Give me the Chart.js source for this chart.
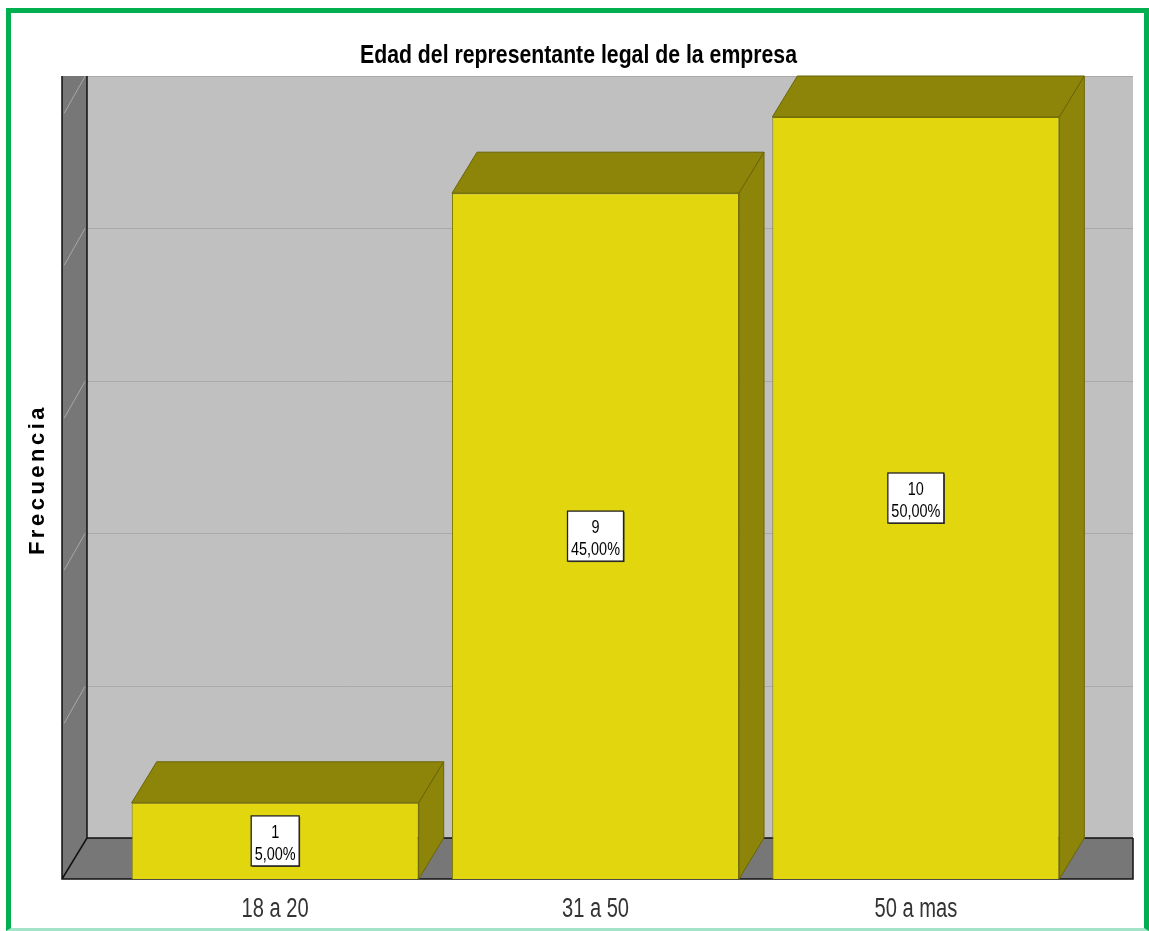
<!DOCTYPE html>
<html>
<head>
<meta charset="utf-8">
<title>Edad del representante legal de la empresa</title>
<script src="https://cdn.jsdelivr.net/npm/chart.js@4.4.0/dist/chart.umd.min.js"></script>
<style>
    html, body { margin: 0; padding: 0; background: #fff; }
    #wrap { position: relative; width: 1149px; height: 931px; overflow: hidden; }
    #frame {
        position: absolute; left: 6px; top: 8px; width: 1143px; height: 923px;
        box-sizing: border-box;
        border: 5px solid #00b050; border-bottom: 3px solid #a3e4c8;
    }
    #chart { position: absolute; left: 0; top: 0; }
</style>
</head>
<body>
<div id="wrap">
    <div id="frame"></div>
    <canvas id="chart" width="1149" height="931"></canvas>
</div>
<script>
// Data
const categories = ["18 a 20", "31 a 50", "50 a mas"];
const frequencies = [1, 9, 10];
const yTicks = [0, 2, 4, 6, 8, 10];
const chartTitle = "Edad del representante legal de la empresa";
const yTitle = "Frecuencia";

const sans = "'Liberation Sans', Arial, sans-serif";
const total = frequencies.reduce((a, b) => a + b, 0);

// 3D depth of bars and walls
const depth = { dx: 25, dy: 41 };

// narrow (Arial Narrow look) text: regular font squeezed horizontally
function narrowText(ctx, text, x, y, font, sx) {
    ctx.save();
    ctx.translate(x, y);
    ctx.scale(sx, 1);
    ctx.font = font;
    ctx.fillText(text, 0, 0);
    ctx.restore();
}

const wallsPlugin = {
    id: "walls",
    beforeDatasetsDraw(chart) {
        const { ctx, chartArea, scales: { y } } = chart;
        const left = chartArea.left - 53;
        const right = chartArea.right + 57;
        const backLeft = left + depth.dx;
        const base = y.getPixelForValue(0);
        const backBase = base - depth.dy;
        const top = y.getPixelForValue(yTicks[yTicks.length - 1]) - depth.dy;

        ctx.save();
        // back wall
        ctx.fillStyle = "#c0c0c0";
        ctx.fillRect(backLeft, top, right - backLeft, backBase - top);

        // left wall
        ctx.fillStyle = "#777777";
        ctx.beginPath();
        ctx.moveTo(left, top);
        ctx.lineTo(backLeft, top);
        ctx.lineTo(backLeft, backBase);
        ctx.lineTo(left, base);
        ctx.closePath();
        ctx.fill();

        // floor
        ctx.beginPath();
        ctx.moveTo(left, base);
        ctx.lineTo(backLeft, backBase);
        ctx.lineTo(right, backBase);
        ctx.lineTo(right, base);
        ctx.closePath();
        ctx.fill();

        // grid lines on back wall and left wall
        ctx.lineWidth = 1;
        yTicks.forEach(v => {
            if (v === 0) return;
            const gy = Math.round(y.getPixelForValue(v) - depth.dy) + 0.5;
            ctx.strokeStyle = "#a9a9a9";
            ctx.beginPath();
            ctx.moveTo(backLeft, gy);
            ctx.lineTo(right, gy);
            ctx.stroke();
            ctx.strokeStyle = "#a8a8a8";
            ctx.beginPath();
            ctx.moveTo(backLeft - 2, gy);
            ctx.lineTo(left + 2, gy + depth.dy - 4);
            ctx.stroke();
        });

        // edges
        ctx.strokeStyle = "#111";
        ctx.lineWidth = 1.5;
        ctx.beginPath();
        ctx.moveTo(left, top);
        ctx.lineTo(left, base);
        ctx.lineTo(right, base);
        ctx.lineTo(right, backBase);
        ctx.moveTo(backLeft, top);
        ctx.lineTo(backLeft, backBase);
        ctx.lineTo(right, backBase);
        ctx.moveTo(backLeft, backBase);
        ctx.lineTo(left, base);
        ctx.stroke();
        ctx.restore();
    },
    afterDatasetsDraw(chart) {
        const { ctx } = chart;
        const bars = chart.getDatasetMeta(0).data;
        ctx.save();
        bars.forEach((bar, i) => {
            const x0 = bar.x - bar.width / 2;
            const x1 = bar.x + bar.width / 2;
            const yt = bar.y;
            const yb = bar.base;
            ctx.fillStyle = "#8c850a";
            ctx.strokeStyle = "#6b6505";
            ctx.lineWidth = 1;
            // top face
            ctx.beginPath();
            ctx.moveTo(x0, yt);
            ctx.lineTo(x0 + depth.dx, yt - depth.dy);
            ctx.lineTo(x1 + depth.dx, yt - depth.dy);
            ctx.lineTo(x1, yt);
            ctx.closePath();
            ctx.fill();
            ctx.stroke();
            // side face
            ctx.beginPath();
            ctx.moveTo(x1, yt);
            ctx.lineTo(x1 + depth.dx, yt - depth.dy);
            ctx.lineTo(x1 + depth.dx, yb - depth.dy);
            ctx.lineTo(x1, yb);
            ctx.closePath();
            ctx.fill();
            ctx.stroke();

            // value label box
            const v = frequencies[i];
            const lines = [String(v), (v / total * 100).toFixed(2).replace(".", ",") + "%"];
            const font = "19px " + sans;
            const sx = 0.76;
            ctx.font = font;
            const w = Math.max(...lines.map(t => ctx.measureText(t).width)) * sx + 7;
            const h = 50;
            const cx = bar.x;
            const cy = (yt + yb) / 2;
            ctx.fillStyle = "#3a3a2a";
            ctx.fillRect(cx - w / 2 + 1, cy - h / 2 + 1, w, h);
            ctx.fillStyle = "#ffffff";
            ctx.fillRect(cx - w / 2, cy - h / 2, w, h);
            ctx.strokeStyle = "#222";
            ctx.lineWidth = 1.3;
            ctx.strokeRect(cx - w / 2, cy - h / 2, w, h);
            ctx.fillStyle = "#000";
            ctx.textAlign = "center";
            ctx.textBaseline = "alphabetic";
            narrowText(ctx, lines[0], cx, cy - 3, font, sx);
            narrowText(ctx, lines[1], cx, cy + 19, font, sx);
        });
        ctx.restore();
    },
    afterDraw(chart) {
        const { ctx, chartArea, scales: { x, y } } = chart;
        const top = y.getPixelForValue(yTicks[yTicks.length - 1]) - depth.dy;
        const base = y.getPixelForValue(0);
        ctx.save();
        ctx.textAlign = "center";
        ctx.textBaseline = "alphabetic";

        // chart title
        ctx.fillStyle = "#000";
        narrowText(ctx, chartTitle, chart.width / 2 + 4, chartArea.top - 54,
            "bold 25px " + sans, 0.85);

        // category labels under each bar
        ctx.fillStyle = "#333";
        categories.forEach((c, i) => {
            narrowText(ctx, c, x.getPixelForValue(i), base + 38, "27px " + sans, 0.745);
        });

        // y axis title
        ctx.translate(chartArea.left - 77, (top + base) / 2 + 2);
        ctx.rotate(-Math.PI / 2);
        ctx.font = "bold 22px " + sans;
        ctx.letterSpacing = "3.5px";
        ctx.fillStyle = "#000";
        ctx.textBaseline = "middle";
        ctx.fillText(yTitle, 0, 0);
        ctx.restore();
    }
};

document.addEventListener("DOMContentLoaded", function() {
    const ctx = document.getElementById("chart").getContext("2d");
    new Chart(ctx, {
        type: "bar",
        data: {
            labels: categories,
            datasets: [{
                label: yTitle,
                data: frequencies,
                backgroundColor: "#e2d70f",
                borderColor: "#827b06",
                borderWidth: 1,
                barPercentage: 0.896,
                categoryPercentage: 1.0,
            }],
        },
        options: {
            responsive: false,
            animation: false,
            layout: {
                padding: { left: 81, right: 73, top: 117, bottom: 52 },
            },
            plugins: {
                legend: { display: false },
                tooltip: { enabled: false },
                title: { display: false },
            },
            scales: {
                x: {
                    grid: { display: false, drawTicks: false },
                    border: { display: false },
                    ticks: { display: false },
                },
                y: {
                    min: 0,
                    max: 10,
                    grid: { display: false, drawTicks: false },
                    border: { display: false },
                    ticks: { display: false, stepSize: 2 },
                    afterFit: function(scale) {
                        scale.width = 34;
                    },
                },
            },
        },
        plugins: [wallsPlugin],
    });
});
</script>
</body>
</html>
